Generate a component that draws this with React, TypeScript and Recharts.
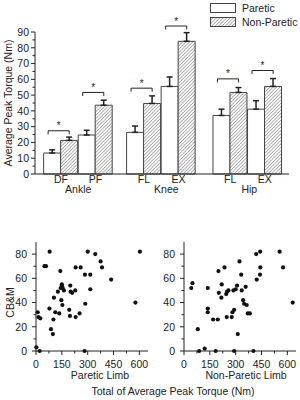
import { ComposedChart, Bar, ErrorBar, XAxis, YAxis, ReferenceLine, ScatterChart, Scatter } from "recharts"

const FONT = "'Liberation Sans', Arial, Helvetica, sans-serif"
const INK = "#222"
const FS = 10.5

// mean peak torque per joint motion (Nm), upper whisker = SD
const motions = ["DF", "PF", "FL", "EX", "FL", "EX"]
const motionPos = [1, 2, 3.4, 4.4, 5.9, 6.9]
const joints = ["Ankle", "Knee", "Hip"]
const jointPos = [1.5, 4.05, 6.45]
const pareticMean = [13.3, 24.7, 26.4, 55.5, 37.1, 41.1]
const pareticSd = [2, 3, 4, 6, 4, 5.3]
const nonPareticMean = [21.3, 43.6, 44.7, 84.1, 51.7, 55.5]
const nonPareticSd = [2.1, 3.2, 4.8, 5.5, 3.1, 5]
const sigLevel = [27.4, 51.7, 54.4, 93.8, 60.3, 65.6]
const torqueTicks = [0, 5, 10, 15, 20, 25, 30, 35, 40, 45, 50, 55, 60, 65, 70, 75, 80, 85, 90]

// total peak torque vs CB&M score, one point per subject
const pareticTotal = [79, 49, 58, 141, 230, 259, 300, 344, 375, 383, 284, 315, 436, 315, 150, 150, 143, 155, 127, 162, 199, 201, 210, 228, 104, 147, 153, 193, 78, 112, 135, 197, 230, 253, 286, 10, 14, 25, 101, 87, 98, 2, 21, 282, 577, 603]
const pareticCbm = [82, 70, 70, 66, 69, 69, 82, 80, 74, 69, 63, 63, 59, 51, 55, 54, 52, 52, 49, 50, 54, 49, 48, 50, 44, 42, 38, 34, 35, 32, 31, 29, 28, 31, 39, 32, 28, 27, 26, 18, 14, 3, 0, 0, 40, 82]
const nonPareticTotal = [42, 49, 138, 138, 138, 80, 120, 88, 184, 291, 403, 200, 235, 219, 202, 217, 245, 250, 258, 287, 300, 308, 322, 332, 335, 358, 343, 349, 364, 370, 382, 169, 196, 248, 277, 281, 291, 312, 419, 442, 443, 441, 422, 555, 575, 631]
const nonPareticCbm = [52, 56, 52, 35, 32, 18, 2, 0, 0, 0, 0, 66, 69, 55, 48, 44, 47, 49, 50, 50, 51, 54, 74, 63, 50, 53, 42, 39, 38, 31, 31, 26, 26, 28, 28, 32, 34, 14, 80, 82, 69, 63, 59, 82, 69, 40]
const totalTicks = [0, 75, 150, 225, 300, 375, 450, 525, 600]
const cbmTicks = [0, 10, 20, 30, 40, 50, 60, 70, 80]

const torqueData = motions.map((m, i) => ({
  pos: motionPos[i],
  paretic: pareticMean[i],
  nonParetic: nonPareticMean[i],
  pErr: [0, pareticSd[i]],
  nErr: [0, nonPareticSd[i]],
}))
const pareticPts = pareticTotal.map((x, i) => ({ x, y: pareticCbm[i] }))
const nonPareticPts = nonPareticTotal.map((x, i) => ({ x, y: nonPareticCbm[i] }))

const series = [
  { key: "paretic", name: "Paretic", fill: "#fff", err: "pErr" },
  { key: "nonParetic", name: "Non-Paretic", fill: "url(#hatch)", err: "nErr" },
]

const txt = { fontSize: FS, fontFamily: FONT, fill: INK }

// long marks + labels on majors, short marks on minors
const yTick = (major: number, gap: number) => (p: any) => {
  const v = p.payload.value
  const big = v % major === 0
  return (
    <g>
      <line x1={p.x - (big ? 4 : 2.5)} x2={p.x} y1={p.y} y2={p.y} stroke={INK} />
      {big && <text x={p.x - gap} y={p.y} dy="0.36em" textAnchor="end" {...txt}>{v}</text>}
    </g>
  )
}
const xTick = (major: number) => (p: any) => {
  const v = p.payload.value
  const big = v % major === 0
  return (
    <g>
      <line x1={p.x} x2={p.x} y1={p.y} y2={p.y + (big ? 4 : 2.5)} stroke={INK} />
      {big && <text x={p.x} y={p.y + 17} textAnchor="middle" {...txt}>{v}</text>}
    </g>
  )
}

const vTitle = (text: string, dx: number, dy = 0) => ({ viewBox }: any) => {
  const x = viewBox.x + dx
  const y = viewBox.y + viewBox.height / 2 + dy
  return (
    <text x={x} y={y} transform={`rotate(-90 ${x} ${y})`} textAnchor="middle" dominantBaseline="central" {...txt}>
      {text}
    </text>
  )
}
const hTitle = (text: string, dx: number, dy: number) => ({ viewBox }: any) => (
  <text x={viewBox.x + viewBox.width / 2 + dx} y={viewBox.y + dy} textAnchor="middle" {...txt}>{text}</text>
)

// joint name under its pair of motions, hung from a reference line's bottom end
const jointLabel = (text: string) => ({ viewBox }: any) => (
  <text x={viewBox.x} y={viewBox.y + viewBox.height + 19} textAnchor="middle" {...txt}>{text}</text>
)

const Bracket = (p: any) => (
  <g>
    <path d={`M${p.x1},${p.y1 + 3.5}V${p.y1}H${p.x2}V${p.y2 + 3.5}`} fill="none" stroke={INK} />
    <text x={(p.x1 + p.x2) / 2} y={p.y1 - 1.5} textAnchor="middle" fontSize={10} fontFamily={FONT} fill={INK}>*</text>
  </g>
)

const Dot = (p: any) => <circle cx={p.cx} cy={p.cy} r={2.1} fill="#111" />

function TorqueLegend() {
  return (
    <div style={{ position: "absolute", left: 210, top: 1, fontFamily: FONT, fontSize: FS, color: INK, lineHeight: "14px" }}>
      {series.map((s) => (
        <div key={s.key} style={{ display: "flex", alignItems: "center", height: 14 }}>
          <svg width={26} height={10} style={{ display: "block" }}>
            <rect x={0.5} y={0.5} width={25} height={9} fill={s.fill} stroke="#444" />
          </svg>
          <span style={{ marginLeft: 6 }}>{s.name}</span>
        </div>
      ))}
    </div>
  )
}

export default function App() {
  return (
    <div style={{ position: "absolute", left: 0, top: 0, width: 300, height: 400, background: "#fff" }}>
      <div style={{ position: "absolute", left: 0, top: 0 }}>
        <ComposedChart width={300} height={200} data={torqueData} margin={{ top: 32, right: 11, bottom: 0, left: 0 }}>
          <defs>
            <pattern id="hatch" width="2.4" height="2.4" patternUnits="userSpaceOnUse" patternTransform="rotate(45)">
              <rect width="2.4" height="2.4" fill="#fff" />
              <line x1="0" y1="0" x2="0" y2="2.4" stroke="#555" strokeWidth="0.9" />
            </pattern>
          </defs>
          <XAxis
            type="number" dataKey="pos" domain={[0.25, 7.6]} allowDataOverflow ticks={motionPos} interval={0}
            tickFormatter={(v) => motions[motionPos.indexOf(v)]}
            tickLine={false} tickSize={0} tickMargin={2} height={26} stroke={INK} tick={txt}
          />
          <YAxis
            type="number" domain={[0, 90]} ticks={torqueTicks} interval={0} width={35}
            tick={yTick(10, 6)} tickLine={false} tickSize={0} tickMargin={0} stroke={INK}
            label={vTitle("Average Peak Torque (Nm)", 8)}
          />
          {series.map((s) => (
            <Bar key={s.key} dataKey={s.key} name={s.name} fill={s.fill} stroke="#444" barSize={17} isAnimationActive={false}>
              <ErrorBar dataKey={s.err} width={3} stroke={INK} />
            </Bar>
          ))}
          {motionPos.map((p, i) => (
            <ReferenceLine
              key={i} ifOverflow="visible" shape={Bracket}
              segment={[{ x: p - 0.37, y: sigLevel[i] }, { x: p + 0.24, y: sigLevel[i] }]}
            />
          ))}
          {jointPos.map((p, i) => (
            <ReferenceLine key={joints[i] + i} x={p} stroke="none" label={jointLabel(joints[i])} />
          ))}
        </ComposedChart>
        <TorqueLegend />
      </div>

      <div style={{ position: "absolute", left: 0, top: 230 }}>
        <ScatterChart width={150} height={151} margin={{ top: 12, right: 2, bottom: 0, left: 0 }}>
          <XAxis type="number" dataKey="x" domain={[0, 650]} ticks={totalTicks} interval={0} height={30}
            tick={xTick(150)} tickLine={false} tickSize={0} tickMargin={0} stroke={INK}
            label={hTitle("Paretic Limb", 8, 27.5)} />
          <YAxis type="number" dataKey="y" domain={[0, 90]} ticks={cbmTicks} interval={0} width={36}
            tick={yTick(20, 9)} tickLine={false} tickSize={0} tickMargin={0} stroke={INK}
            label={vTitle("CB&M", 10, 6)} />
          <Scatter data={pareticPts} shape={Dot} isAnimationActive={false} />
        </ScatterChart>
      </div>

      <div style={{ position: "absolute", left: 150, top: 230 }}>
        <ScatterChart width={150} height={151} margin={{ top: 12, right: 4, bottom: 0, left: 0 }}>
          <XAxis type="number" dataKey="x" domain={[0, 650]} ticks={totalTicks} interval={0} height={30}
            tick={xTick(150)} tickLine={false} tickSize={0} tickMargin={0} stroke={INK}
            label={hTitle("Non-Paretic Limb", 6, 27.5)} />
          <YAxis type="number" dataKey="y" domain={[0, 90]} ticks={cbmTicks} interval={0} width={34}
            tick={yTick(20, 9)} tickLine={false} tickSize={0} tickMargin={0} stroke={INK} />
          <Scatter data={nonPareticPts} shape={Dot} isAnimationActive={false} />
        </ScatterChart>
      </div>

      <svg style={{ position: "absolute", left: 0, top: 380 }} width={300} height={20}>
        <text x={173} y={14.5} textAnchor="middle" {...txt}>Total of Average Peak Torque (Nm)</text>
      </svg>
    </div>
  )
}
